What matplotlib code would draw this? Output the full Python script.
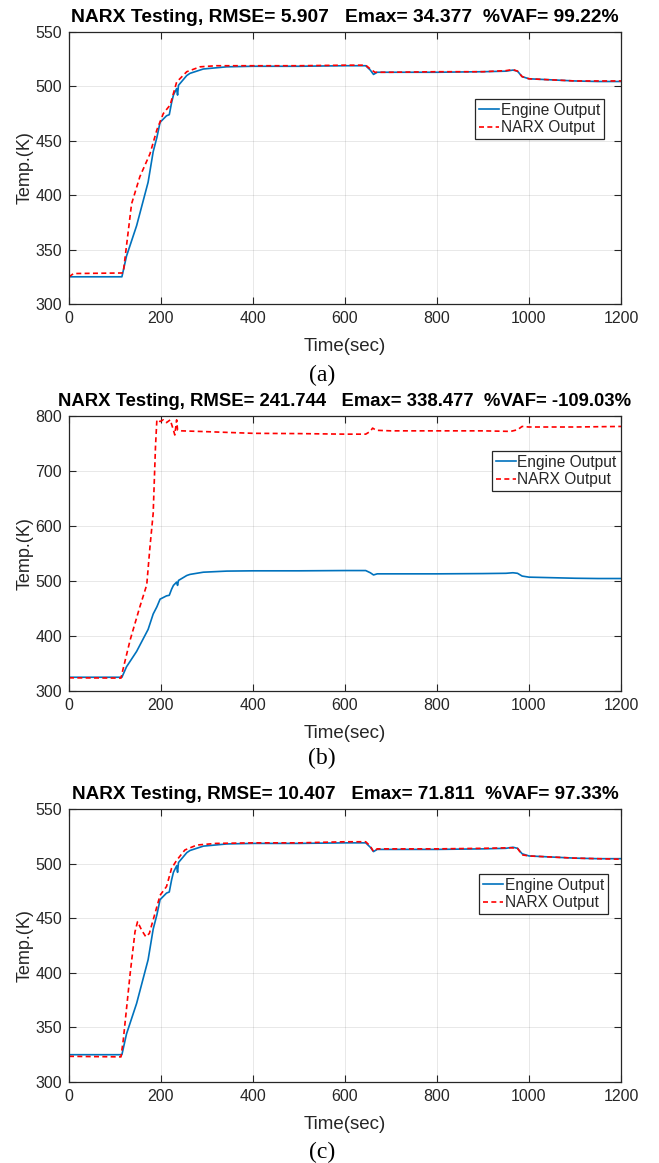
import matplotlib
matplotlib.use("Agg")
import matplotlib.pyplot as plt

# ---------------- data ----------------
engine_t = [0, 115, 125, 147, 172, 183, 191, 198, 205, 212, 218, 223, 227, 234, 236, 238,
            256, 263, 292, 343, 400, 500, 600, 645, 655, 662, 670, 700, 800, 900, 950,
            965, 975, 985, 1000, 1050, 1100, 1150, 1200]
engine_y = [325, 325, 344, 372, 412, 440, 453, 467, 470, 473, 474, 485, 492, 498, 492, 501,
            510, 512, 516, 518, 518.5, 518.5, 519, 519, 515, 511, 513, 513, 513, 513.5, 514,
            515, 514, 509, 507, 506, 505, 504.5, 504.5]

narx_a_t = [0, 10, 115, 118, 136, 154, 176, 191, 205, 220, 234, 256, 285, 320, 400, 500,
            600, 645, 655, 665, 700, 800, 900, 950, 965, 975, 985, 1000, 1050, 1100, 1200]
narx_a_y = [325, 328, 328.5, 329, 392, 417, 438, 460, 475, 483, 504, 513.5, 518, 519, 519,
            519, 519.5, 519.5, 516, 513, 513, 513.5, 513.5, 514.5, 515.5, 514, 509, 507,
            506, 505, 505]

narx_b_t = [0, 113, 117, 133, 154, 169, 176, 183, 188, 191, 198, 205, 212, 220, 227, 230,
            234, 236, 245, 300, 400, 500, 600, 645, 655, 660, 668, 700, 800, 900, 960, 975,
            985, 1000, 1100, 1200]
narx_b_y = [324, 323.5, 338, 393, 453, 493, 562, 623, 744, 793, 790, 793, 788, 793, 774.5,
            765.5, 793, 774.5, 773, 771.5, 768.5, 768, 767, 767, 772, 778, 774, 773, 773, 773,
            772, 775, 781, 780, 780, 781]

narx_c_t = [0, 113, 118, 133, 143.5, 149, 158, 167, 174.6, 187, 198, 212, 223, 234, 252, 278,
            320, 400, 500, 600, 645, 655, 662, 670, 700, 800, 900, 960, 975, 985, 1000, 1100,
            1200]
narx_c_y = [323.5, 323, 338.5, 399.5, 437.6, 446.8, 439, 433, 436, 454.5, 471, 479, 495.7,
            503, 512.5, 517, 518.5, 519, 519, 520, 520, 516, 511, 513.5, 513.5, 513.5, 514,
            514.5, 514, 508, 507, 505, 504]

titles = ["NARX Testing, RMSE= 5.907   Emax= 34.377  %VAF= 99.22%",
          "NARX Testing, RMSE= 241.744   Emax= 338.477  %VAF= -109.03%",
          "NARX Testing, RMSE= 10.407   Emax= 71.811  %VAF= 97.33%"]
captions = ["(a)", "(b)", "(c)"]
ylims = [(300, 550), (300, 800), (300, 550)]
ystep = [50, 100, 50]
xticks = [0, 200, 400, 600, 800, 1000, 1200]
legend_labels = ["Engine Output", "NARX Output"]

# ---------------- figure ----------------
W, H = 659, 1163
fig = plt.figure(figsize=(W / 100, H / 100), dpi=100)
plt.rcParams['font.family'] = ['Liberation Sans', 'DejaVu Sans']

TXT = '#262626'
BLUE = '#0072BD'
RED = '#FF0000'

# axes boxes in pixels: (left, top, right, bottom)
boxes = [(69, 32, 621, 304), (69, 416, 621, 691), (69, 809, 621, 1082)]
leg_anchor = [(0.7355, 0.7537), (0.766, 0.873), (0.743, 0.762)]
caption_y = [375, 758, 1152]
title_size = [13.9, 13.3, 13.6]

narx_sets = [(narx_a_t, narx_a_y), (narx_b_t, narx_b_y), (narx_c_t, narx_c_y)]

for i in range(3):
    l, t, r, b = boxes[i]
    ax = fig.add_axes([l / W, 1 - b / H, (r - l) / W, (b - t) / H])
    ax.plot(engine_t, engine_y, color=BLUE, lw=1.2, label=legend_labels[0])
    nt, ny = narx_sets[i]
    ax.plot(nt, ny, color=RED, lw=1.2, linestyle=(0, (3, 2)), label=legend_labels[1])
    ax.set_xlim(0, 1200)
    ax.set_ylim(*ylims[i])
    ax.set_xticks(xticks)
    ax.set_yticks(list(range(ylims[i][0], ylims[i][1] + 1, ystep[i])))
    ax.grid(True, color=TXT, alpha=0.12, lw=0.6)
    ax.set_axisbelow(True)
    for s in ax.spines.values():
        s.set_color(TXT)
        s.set_linewidth(0.9)
    ax.tick_params(direction='in', length=5, width=0.8, colors=TXT, labelsize=11.5,
                   top=True, right=True, pad=5)
    ax.set_xlabel("Time(sec)", fontsize=13.5, color=TXT, labelpad=9)
    ax.set_ylabel("Temp.(K)", fontsize=13, color=TXT, labelpad=1)
    ax.set_title(titles[i], fontsize=title_size[i], fontweight='bold', color='black', pad=7.5)
    leg = ax.legend(loc='upper left', bbox_to_anchor=leg_anchor[i], borderaxespad=0,
                    fontsize=11.2, frameon=True, fancybox=False, framealpha=1,
                    handlelength=1.3, handletextpad=0.1, borderpad=0.25,
                    labelspacing=0.15)
    leg.get_frame().set_edgecolor(TXT)
    leg.get_frame().set_linewidth(0.9)
    for txt in leg.get_texts():
        txt.set_color(TXT)
    fig.text(322 / W, 1 - caption_y[i] / H, captions[i], ha='center', va='center',
             fontsize=17, family=['Liberation Serif', 'DejaVu Serif'], color='black')

fig.savefig("out.png", dpi=100)
